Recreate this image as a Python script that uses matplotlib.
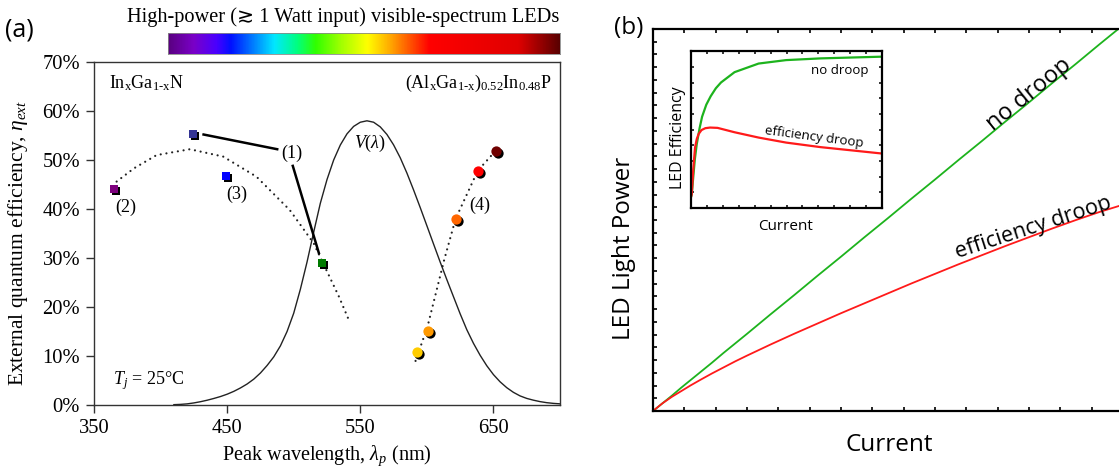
import numpy as np
import matplotlib
matplotlib.use('Agg')
import matplotlib.pyplot as plt
from matplotlib.colors import LinearSegmentedColormap
from matplotlib.ticker import MultipleLocator, FixedLocator, NullFormatter
from matplotlib import transforms

plt.rcParams['mathtext.fontset'] = 'custom'
plt.rcParams['mathtext.rm'] = 'Liberation Serif'
plt.rcParams['mathtext.it'] = 'Liberation Serif:italic'
plt.rcParams['mathtext.bf'] = 'Liberation Serif:bold'

SERIF = ['Liberation Serif', 'DejaVu Sans']
SANS = ['Open Sans', 'DejaVu Sans']

# ---------------- panel (a): high-power LED external quantum efficiency
ingan_wavelength = [365, 424, 449, 521]
ingan_eqe = [44.0, 55.4, 46.7, 28.9]
ingan_colors = ['#7d007d', '#343494', '#0000ff', '#007a00']

algainp_wavelength = [592.6, 600.6, 621.6, 638.2, 651.7]
algainp_eqe = [10.9, 15.2, 38.0, 47.8, 51.9]
algainp_colors = ['#ffcc00', '#ff9900', '#ff6600', '#ff0000', '#700000']

ingan_trend_wl = [367, 380, 397, 422, 447, 472, 497, 515, 534, 541]
ingan_trend_eqe = [45.6, 48.3, 51.0, 52.2, 50.7, 46.6, 39.8, 33.0, 22.1, 17.6]

algainp_trend_wl = [591.5, 600.5, 613.0, 621.6, 638.2, 651.7]
algainp_trend_eqe = [9.0, 16.0, 29.6, 38.0, 47.8, 51.9]

# CIE 1924 photopic luminosity function V(lambda), 5 nm steps
v_wavelength = list(range(410, 705, 5))
v_value = [0.00121, 0.00218, 0.0040, 0.0073, 0.0116, 0.01684, 0.023, 0.0298,
           0.038, 0.048, 0.060, 0.0739, 0.09098, 0.1126, 0.13902, 0.1693,
           0.20802, 0.2586, 0.323, 0.4073, 0.503, 0.6082, 0.710, 0.7932,
           0.862, 0.91485, 0.954, 0.9803, 0.99495, 1.000, 0.995, 0.9786,
           0.952, 0.9154, 0.870, 0.8163, 0.757, 0.6949, 0.631, 0.5668,
           0.503, 0.4412, 0.381, 0.321, 0.265, 0.217, 0.175, 0.1382, 0.107,
           0.0816, 0.061, 0.04458, 0.032, 0.0232, 0.017, 0.01192, 0.00821,
           0.005723, 0.004102]
v_peak_eqe = 58.0

x_ticks = [350, 450, 550, 650]
y_ticks = [0, 10, 20, 30, 40, 50, 60, 70]

# spectrum bar colour stops (wavelength, colour)
spectrum_wl = [405, 424, 441, 452, 468, 485, 502, 516, 535, 555, 571, 585,
               602, 669, 700]
spectrum_colors = ['#5a0080', '#7a00c8', '#4a00ff', '#0010ff', '#0078ff',
                   '#00e8ff', '#00ff80', '#30ff00', '#a0ff00', '#ffff00',
                   '#ffb000', '#ff6000', '#ff0000', '#e00000', '#5a0000']

# ---------------- panel (b): light power vs current, with and without droop
current = [0, 0.02, 0.04, 0.06, 0.08, 0.10, 0.125, 0.15, 0.175, 0.2, 0.25,
           0.3, 0.35, 0.4, 0.45, 0.5, 0.55, 0.6, 0.65, 0.7, 0.75, 0.8, 0.85,
           0.9, 0.95, 1.0]
power_no_droop = [0, 0.020, 0.040, 0.061, 0.081, 0.101, 0.126, 0.152, 0.177,
                  0.202, 0.253, 0.303, 0.354, 0.404, 0.455, 0.505, 0.556,
                  0.606, 0.657, 0.707, 0.758, 0.808, 0.859, 0.909, 0.960,
                  1.010]
power_droop = [0, 0.020, 0.037, 0.052, 0.067, 0.081, 0.098, 0.114, 0.130,
               0.145, 0.174, 0.202, 0.229, 0.256, 0.282, 0.308, 0.334, 0.359,
               0.384, 0.408, 0.432, 0.455, 0.478, 0.500, 0.521, 0.540]

inset_current_nd = [0.0, 0.004, 0.012, 0.020, 0.030, 0.045, 0.058, 0.080,
                    0.103, 0.130, 0.157, 0.228, 0.354, 0.498, 0.678, 1.0]
inset_eff_nd = [0.07, 0.088, 0.20, 0.31, 0.407, 0.51, 0.583, 0.66, 0.714,
                0.765, 0.802, 0.868, 0.923, 0.945, 0.956, 0.967]
inset_current_d = [0.0, 0.004, 0.012, 0.021, 0.030, 0.040, 0.055, 0.075,
                   0.10, 0.139, 0.228, 0.354, 0.498, 0.678, 1.0]
inset_eff_d = [0.07, 0.088, 0.25, 0.385, 0.44, 0.473, 0.498, 0.510, 0.514,
               0.512, 0.484, 0.450, 0.418, 0.389, 0.348]

GREEN = '#1db31d'
RED = '#ff1a1a'

W, H = 1119, 470
fig = plt.figure(figsize=(W / 100, H / 100), dpi=100)


def px_box(left, top, right, bottom):
    return [left / W, 1 - bottom / H, (right - left) / W, (bottom - top) / H]


# ======== panel (a)
ax = fig.add_axes(px_box(94, 62, 560, 405))
ax.set_xlim(350, 700)
ax.set_ylim(0, 70)
for s in ax.spines.values():
    s.set_linewidth(1.0)
    s.set_color('#333333')
ax.xaxis.set_major_locator(FixedLocator(x_ticks))
ax.yaxis.set_major_locator(FixedLocator(y_ticks))
ax.set_yticklabels([f'{v}%' for v in y_ticks])
ax.tick_params(direction='out', length=6, width=1.0, color='#333333',
               labelsize=14.8, pad=4)
for lab in ax.get_xticklabels() + ax.get_yticklabels():
    lab.set_fontfamily(SERIF)

# luminosity curve
ax.plot(v_wavelength, np.array(v_value) * v_peak_eqe, color='#222222', lw=1.0)

# dotted trends
dots = dict(color='#222222', lw=1.6, linestyle=(0, (0.01, 2.6)),
            dash_capstyle='round')
ax.plot(ingan_trend_wl, ingan_trend_eqe, **dots)
ax.plot(algainp_trend_wl, algainp_trend_eqe, **dots)

shadow = transforms.offset_copy(ax.transData, fig=fig, x=2, y=-2, units='dots')
for wl, e, c in zip(ingan_wavelength, ingan_eqe, ingan_colors):
    ax.plot([wl], [e], marker='s', ms=6.4, color='black', mew=0,
            transform=shadow, zorder=4)
    ax.plot([wl], [e], marker='s', ms=6.4, color=c, mew=0, zorder=5)
for wl, e, c in zip(algainp_wavelength, algainp_eqe, algainp_colors):
    ax.plot([wl], [e], marker='o', ms=7.4, color='black', mew=0,
            transform=shadow, zorder=4)
    ax.plot([wl], [e], marker='o', ms=7.4, color=c, mew=0, zorder=5)

# leader lines for label (1)
ax.plot([432.3, 487.6], [55.2, 52.2], color='black', lw=1.8)
ax.plot([499.3, 518.9], [48.8, 31.0], color='black', lw=1.8)

txt = dict(fontfamily=SERIF, fontsize=13, ha='center', va='center')
ax.text(498.5, 51.4, '(1)', **txt)
ax.text(374, 40.3, '(2)', **txt)
ax.text(457, 42.9, '(3)', **txt)
ax.text(639.5, 40.8, '(4)', **txt)
ax.text(557, 53.4, r'$V(\lambda)$', fontsize=13, ha='center', va='center')
ax.text(361, 65.6, r'In$_\mathrm{x}$Ga$_\mathrm{1\text{-}x}$N', fontsize=13,
        fontfamily=SERIF, ha='left', va='center')
ax.text(694, 65.6,
        r'(Al$_\mathrm{x}$Ga$_\mathrm{1\text{-}x}$)$_\mathrm{0.52}$In$_\mathrm{0.48}$P',
        fontsize=13, fontfamily=SERIF, ha='right', va='center')
ax.text(364, 5.0, r'$T_j$ = 25°C', fontsize=13, ha='left', va='center',
        fontfamily=SERIF)

ax.set_xlabel(r'Peak wavelength, $\lambda_p$ (nm)', fontsize=14.6,
              fontfamily=SERIF, labelpad=4)
fig.text(18 / W, 1 - 243 / H, r'External quantum efficiency, $\eta_{ext}$',
         fontsize=15.5, fontfamily=SERIF, rotation=90, ha='center',
         va='center')

# spectrum bar
cax = fig.add_axes(px_box(168, 33, 560, 54))
stops = (np.array(spectrum_wl) - spectrum_wl[0]) / (spectrum_wl[-1] - spectrum_wl[0])
cmap = LinearSegmentedColormap.from_list('spectrum', list(zip(stops, spectrum_colors)))
cax.imshow(np.linspace(0, 1, 512)[None, :], aspect='auto', cmap=cmap,
           extent=[spectrum_wl[0], spectrum_wl[-1], 0, 1])
cax.set_xticks([])
cax.set_yticks([])
for s in cax.spines.values():
    s.set_linewidth(0.6)
    s.set_color('#888888')

fig.text(127 / W, 1 - 17 / H,
         'High-power (\u2273 1 Watt input) visible-spectrum LEDs',
         fontfamily=SERIF, fontsize=14.65, ha='left', va='center')
fig.text(19 / W, 1 - 30 / H, '(a)', fontfamily=SANS, fontsize=18,
         ha='center', va='center')

# ======== panel (b)
bx = fig.add_axes(px_box(653, 29, 1123, 411))
bx.set_xlim(0, 1)
bx.set_ylim(0, 1)
for s in bx.spines.values():
    s.set_linewidth(1.6)
bx.xaxis.set_major_locator(MultipleLocator(1 / 15))
bx.yaxis.set_major_locator(MultipleLocator(1 / 30))
bx.xaxis.set_major_formatter(NullFormatter())
bx.yaxis.set_major_formatter(NullFormatter())
bx.tick_params(direction='in', length=3, width=1.2, top=True, right=True)
bx.plot(current, power_no_droop, color=GREEN, lw=1.3)
bx.plot(current, power_droop, color=RED, lw=1.3)

fig.text(1028.6 / W, 1 - 94.5 / H, 'no droop', fontfamily=SANS, fontsize=17,
         rotation=39, ha='center', va='center')
fig.text(1033 / W, 1 - 228 / H, 'efficiency droop', fontfamily=SANS,
         fontsize=15.7, rotation=18, ha='center', va='center')
fig.text(889 / W, 1 - 451 / H, 'Current', fontfamily=SANS, fontsize=17.5,
         ha='center', va='baseline')
fig.text(624 / W, 1 - 248 / H, 'LED Light Power', fontfamily=SANS,
         fontsize=17.5, rotation=90, ha='center', va='center')
fig.text(629 / W, 1 - 28 / H, '(b)', fontfamily=SANS, fontsize=17.5,
         ha='center', va='center')

# inset: efficiency vs current
ix = fig.add_axes(px_box(691, 51.5, 882, 208))
ix.set_xlim(0, 1)
ix.set_ylim(0, 1)
for s in ix.spines.values():
    s.set_linewidth(1.6)
ix.xaxis.set_major_locator(MultipleLocator(1 / 12))
ix.yaxis.set_major_locator(MultipleLocator(1 / 10))
ix.xaxis.set_major_formatter(NullFormatter())
ix.yaxis.set_major_formatter(NullFormatter())
ix.tick_params(direction='in', length=2.5, width=1.1, top=True, right=True)
ix.plot(inset_current_nd, inset_eff_nd, color=GREEN, lw=1.6)
ix.plot(inset_current_d, inset_eff_d, color=RED, lw=1.6)

fig.text(839.5 / W, 1 - 70.5 / H, 'no droop', fontfamily=SANS, fontsize=9.5,
         ha='center', va='center')
fig.text(813.7 / W, 1 - 137.5 / H, 'efficiency droop', fontfamily=SANS,
         fontsize=9.5, rotation=-7.5, ha='center', va='center')
fig.text(678 / W, 1 - 138 / H, 'LED Efficiency', fontfamily=SANS,
         fontsize=11.5, rotation=90, ha='center', va='center')
fig.text(786 / W, 1 - 227 / H, 'Current', fontfamily=SANS, fontsize=11,
         ha='center', va='center')

fig.savefig('out.png', dpi=100)
